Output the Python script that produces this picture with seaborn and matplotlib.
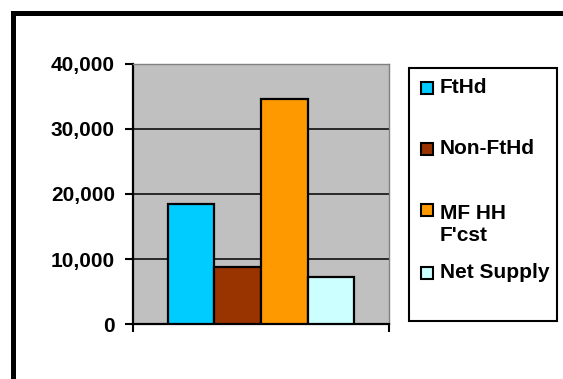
import matplotlib
matplotlib.use("Agg")
import matplotlib.pyplot as plt
import matplotlib.patches as mpatches
from matplotlib.ticker import FuncFormatter
import seaborn as sns
import pandas as pd

# Housing units by component
series = ["FtHd", "Non-FtHd", "MF HH\nF'cst", "Net Supply"]
values = [18500, 8700, 34600, 7200]
colors = ["#00CCFF", "#993300", "#FF9900", "#CCFFFF"]
y_ticks = [0, 10000, 20000, 30000, 40000]

sns.set_style("white")
plt.rcParams["font.family"] = ["Liberation Sans", "DejaVu Sans"]
plt.rcParams["font.weight"] = "bold"
plt.rcParams["text.color"] = "black"
plt.rcParams["ytick.color"] = "black"
plt.rcParams["xtick.color"] = "black"

FS = 15

W, H = 563, 379
fig = plt.figure(figsize=(W / 100, H / 100), dpi=100)
fig.patch.set_facecolor("white")

def fx(px):
    return px / W

def fy(py):
    return 1 - py / H

ax = fig.add_axes([fx(133), fy(324), fx(389) - fx(133), fy(64) - fy(324)])
ax.set_facecolor("#C0C0C0")

df = pd.DataFrame({"group": [""] * len(series), "series": series, "value": values})
sns.barplot(data=df, x="group", y="value", hue="series", hue_order=series,
            palette=colors, width=0.727, gap=0, edgecolor="black",
            linewidth=1.6, saturation=1, legend=False, ax=ax, zorder=3)

ax.set_xlim(-0.5, 0.5)
ax.set_ylim(0, 40000)
ax.set_yticks(y_ticks)
ax.yaxis.set_major_formatter(FuncFormatter(lambda v, p: f"{int(v):,}"))
ax.set_xticks([-0.5, 0.5])
ax.set_xticklabels(["", ""])
ax.set_xlabel("")
ax.set_ylabel("")

ax.grid(axis="y", color="black", linewidth=1.1, zorder=1)
ax.set_axisbelow(True)
ax.tick_params(axis="y", direction="out", length=6, width=1.5, pad=7,
               labelsize=FS, left=True, colors="black", labelcolor="black")
ax.tick_params(axis="x", direction="out", length=6, width=1.5, bottom=True)
for lab in ax.get_yticklabels():
    lab.set_fontweight("bold")

for side in ("left", "bottom"):
    ax.spines[side].set_color("black")
    ax.spines[side].set_linewidth(1.6)
for side in ("top", "right"):
    ax.spines[side].set_color("#808080")
    ax.spines[side].set_linewidth(1.0)

# Legend drawn in figure pixels
fig.patches.append(mpatches.Rectangle((fx(409), fy(321)), fx(557) - fx(409), fy(68) - fy(321),
                                      transform=fig.transFigure, facecolor="white",
                                      edgecolor="black", linewidth=1.5))
entry_y = [87.5, 149, 210, 273]
text_y = [87.5, 149, 224.5, 273]
for lab, col, py, ty in zip(series, colors, entry_y, text_y):
    fig.patches.append(mpatches.Rectangle((fx(421), fy(py + 6)), fx(12), 12 / H,
                                          transform=fig.transFigure, facecolor=col,
                                          edgecolor="black", linewidth=1.5))
    fig.text(fx(440), fy(ty), lab, fontsize=FS, fontweight="bold", color="black",
             va="center", ha="left", linespacing=1.2)

# Outer frame
fig.patches.append(mpatches.Rectangle((fx(12.5), -0.2), 1.2, fy(12.5) + 0.2,
                                      transform=fig.transFigure, fill=False,
                                      edgecolor="black", linewidth=3.6))

fig.savefig("out.png", dpi=100)
